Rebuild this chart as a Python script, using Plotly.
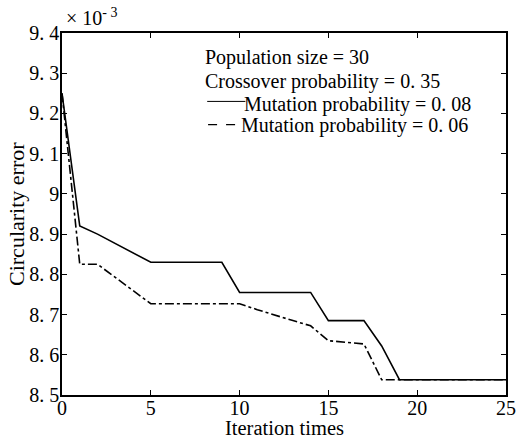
import plotly.graph_objects as go

# Iteration index of each vertex, and circularity error (x 10^-3)
x_m08 = [0, 1, 2, 5, 9, 10, 14, 15, 17, 18, 19, 25]
y_m08 = [9.25, 8.92, 8.90, 8.83, 8.83, 8.755, 8.755, 8.685, 8.685, 8.622, 8.538, 8.538]

x_m06 = [0, 1, 2, 5, 10, 11, 13, 14, 15, 17, 18, 25]
y_m06 = [9.25, 8.825, 8.825, 8.727, 8.727, 8.712, 8.685, 8.672, 8.635, 8.627, 8.538, 8.538]

x_ticks = [0, 5, 10, 15, 20, 25]
y_tickvals = [8.5, 8.6, 8.7, 8.8, 8.9, 9.0, 9.1, 9.2, 9.3, 9.4]
y_ticktext = ["8. 5", "8. 6", "8. 7", "8. 8", "8. 9", "9", "9. 1", "9. 2", "9. 3", "9. 4"]

x_title = "Iteration times"
y_title = "Circularity error"
legend_lines = [
    "Population size = 30",
    "Crossover probability = 0. 35",
    "Mutation probability = 0. 08",
    "Mutation probability = 0. 06",
]

FONT = "Liberation Serif"
BLACK = "black"

fig = go.Figure()
fig.add_trace(go.Scatter(x=x_m08, y=y_m08, mode="lines",
                         line=dict(color=BLACK, width=1.6), showlegend=False))
fig.add_trace(go.Scatter(x=x_m06, y=y_m06, mode="lines",
                         line=dict(color=BLACK, width=1.6, dash="dashdot"), showlegend=False))

axis_common = dict(showline=True, linecolor=BLACK, linewidth=1.5, mirror="ticks",
                   ticks="inside", ticklen=5, tickwidth=1.2, tickcolor=BLACK,
                   showgrid=False, zeroline=False, automargin=False,
                   tickfont=dict(family=FONT, size=20, color=BLACK))

fig.update_xaxes(range=[0, 25], tickvals=x_ticks, ticklabelstandoff=-6, **axis_common)
fig.update_yaxes(range=[8.5, 9.4], tickvals=y_tickvals, ticktext=y_ticktext,
                 ticklabelstandoff=-3, **axis_common)

# axis titles
fig.add_annotation(x=0.5, y=0, xref="paper", yref="paper", xanchor="center", yanchor="top",
                   yshift=-20, showarrow=False, text=x_title,
                   font=dict(family=FONT, size=20.5, color=BLACK))
fig.add_annotation(x=0, y=0.5, xref="paper", yref="paper", xanchor="center", yanchor="middle",
                   xshift=-46, textangle=-90, showarrow=False, text=y_title,
                   font=dict(family=FONT, size=22, color=BLACK))

# multiplier label
fig.add_annotation(x=0, y=1, xref="paper", yref="paper", xanchor="left", yanchor="bottom",
                   xshift=2, yshift=2, showarrow=False,
                   text="× 10<sup>- 3</sup>", font=dict(family=FONT, size=20, color=BLACK))

# text legend
leg_x = 0.327
leg_y = [0.931, 0.866, 0.803, 0.745]
txt_font = dict(family=FONT, size=20, color=BLACK)
fig.add_annotation(x=leg_x, y=leg_y[0], xref="paper", yref="paper", xanchor="left", yanchor="middle",
                   xshift=-4, showarrow=False, text=legend_lines[0], font=txt_font)
fig.add_annotation(x=leg_x, y=leg_y[1], xref="paper", yref="paper", xanchor="left", yanchor="middle",
                   xshift=-4, showarrow=False, text=legend_lines[1], font=txt_font)
fig.add_annotation(x=leg_x + 0.086, y=leg_y[2], xref="paper", yref="paper", xanchor="left", yanchor="middle",
                   xshift=-3, showarrow=False, text=legend_lines[2], font=txt_font)
fig.add_annotation(x=leg_x + 0.079, y=leg_y[3], xref="paper", yref="paper", xanchor="left", yanchor="middle",
                   xshift=-3, showarrow=False, text=legend_lines[3], font=txt_font)
fig.add_shape(type="line", xref="paper", yref="paper", x0=leg_x, x1=leg_x + 0.086,
              y0=leg_y[2] + 0.008, y1=leg_y[2] + 0.008, line=dict(color=BLACK, width=1))
fig.add_shape(type="line", xref="paper", yref="paper", x0=leg_x + 0.002, x1=leg_x + 0.066,
              y0=leg_y[3] + 0.002, y1=leg_y[3] + 0.002, line=dict(color=BLACK, width=1.4, dash="dash"))

fig.update_layout(width=516, height=438, margin=dict(l=62, r=10, t=33, b=43),
                  paper_bgcolor="white", plot_bgcolor="white",
                  font=dict(family=FONT, color=BLACK))

fig.write_html("out.html", config={"displayModeBar": False},
               post_script="document.body.style.margin='0';")
